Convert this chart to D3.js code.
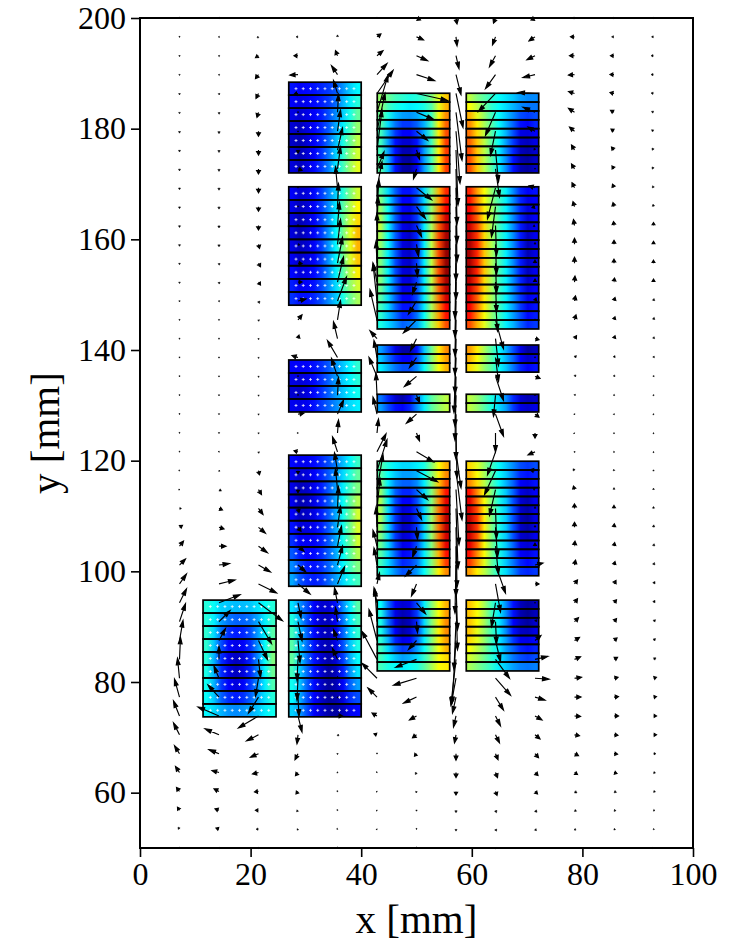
<!DOCTYPE html>
<html><head><meta charset="utf-8">
<style>html,body{margin:0;padding:0;background:#fff}svg{display:block}</style>
<script src="https://d3js.org/d3.v7.min.js"></script></head>
<body><div id="chart"></div>
<script>
const xTicks=[0,20,40,60,80,100], yTicks=[60,80,100,120,140,160,180,200];

// Velocity field: one list per grid column, 45 rows from y=200 down to y=50
const arrowEastward=[
[0,0,0,0,0,0,0,0,0,0,0,0,0,0,0,0,0,0,0,0,0,0,0,0,.3,.5,2,3,4,6,7,7,6,3.5,1,-2,-5,-6,-6,-5,-4,-3,-2,-1.5,-.5],
[.2,.5,.3,.3,.3,.2,0,0,0,0,0,0,0,.3,.3,.3,0,0,0,0,0,0,0,.3,1,2.5,3.5,5,7,10.5,16,21,11,6.5,0,-5,-11,-21,-14,-10,-7,-5,-4,-3,-1],
[-.5,-1.5,-3,-3,-2.5,-1.5,0,0,0,0,0,0,1,2,2,1,.5,.3,.3,.3,.3,.3,.3,.5,1,3,4.5,7,9,12,18,24,13,9,2,-3,-10,-20,-12,-8,-6,-4,-3,-2.5,-1],
[-.5,-2,-4,-8,-4,0,0,0,4,0,0,0,2,4,4,8,4,1,-6,0,0,6,.5,-4,0,0,1,3,6,8,12,3,4,2,-1,-1,1,4,-1,-3,-2.5,-2,-1.5,-1,-.3],
[0,0,-2,-6,-4,1,3,5,3,-2,1,2,3,5,6,9,3,-4,-10,-6,1,6,1,-5,-3,-2,1,3,4,5,7,-3,-2,-4,-5,0,0,5,1.5,0,.5,.3,.3,.3,0],
[1,4,6,10,16,11,8,5,7,5,2,1,0,-1,-4,-4,-7,-7,-3,-8,-1,-4,1.5,9,10,6,3,-1,-4,-3,2.5,-3,-2,-8,-15,-15,-9,-5,-3,0,.2,.3,.3,.3,.2],
[4,7,11,18,31,17,11,3,-3,15,9,5,2,1,-4,-8,-13,-6,-7,-12,3,-10,3,17,21,11,5,1,-4,-11,-5,9,1,-8,-21,-23,-13,-7,-4,-2,-1.2,-.5,0,0,0],
[1,1,3,5,7,6,4,2,1,1,1,0,0,-1,-1,-1,-1,-1,-2,-1,-1,0,1,5,6,3,2,1,0,-1,1.5,1.5,-2,-4,-5,-5,-3.5,-2.5,-1.5,0,0,0,0,0,0],
[-2,-3,-6,-10,-17,-10,-5,3,4,-8,-4,1,1,1,1,2,8,3,3,8,-2,8,0,-8,-11,-6,1,2,3,10,5,-4,1,5,14,15,8,5,4,2.5,2,1.5,1,1,.5],
[-4,-6,-8,-12,-17,-12,-7,-1,0,-6,-3,-2,0,0,0,1,0,4,0,5,0,4,0,-7,-5,-2,0,0,0,8,4,0,2,6,13,14,10,7,5,3.5,3,2.5,2,1.5,.5],
[-2,-4,-5,-6,-6,-6,-5,-3,-3,-2.5,-1.5,-1,0,0,.5,1,1.5,2,2,1.5,1,.5,.2,-.5,-1.5,-1,0,0,.5,1,3,3,4,5,6,7,6.5,6,5,4,3,2.5,2,1.5,.5],
[-1.5,-2.5,-3.5,-4,-4,-3.5,-3,-2.5,-2,-1.5,-1,-.5,0,0,.5,1,1,1,1,.7,.3,.2,0,-.3,-.3,0,0,.3,.7,1,2,2.5,2.5,3,3.5,4,4.5,4.5,4,3.5,3,2.5,2,1.5,.5],
[-1,-2,-2.5,-2.5,-2.5,-2,-2,-1.5,-1.5,-1,-.5,0,0,0,0,.5,.7,.7,.7,.5,.3,.2,0,0,0,0,0,.3,.7,1,1.5,1.5,2,2,2.5,3,3,3,3,2.5,2,2,1.5,1,.5]
];
const arrowDownward=[
[.5,.7,1,1,1.5,1.5,2,2,2,2,2,2,2,1.5,1.5,1,.8,.7,.6,.6,.6,.6,.6,.5,.3,0,0,-2,-5,-6,-10,-14,-18,-20,-22,-20,-18,-15,-12,-8,-6,-4,-3,-2,-1],
[.5,.7,1,1,1.5,2,2.5,2.5,2.5,2.5,2.5,2.5,2.5,2,2,1,.8,.7,.7,.7,.7,.7,.7,.5,.5,1.5,1.5,1.5,0,-1.5,-4,-8,-11,-12,-13,-12,-12,-9,-6,-4,-2,-2.5,-1.5,-1,0],
[.5,1,2,4,5,5,5,5,5,5,4.5,4.5,4,3.5,3,2.5,1.5,1,1,1,1,1,1,1.5,4,5,6,6,6.5,7,9,18,22,19,18,18,16,12,6,3.5,1.5,.5,0,0,0],
[0,0,0,.5,1,-1,1,3,1.5,.5,.5,.5,.5,.5,0,-2,-5,-3.5,-2,.5,.5,-1,0,-1,3,3,4,4,5,7,10,15,19,22,21,22,19,16,9,6,3,2.5,1.5,1,.3],
[-1,-2,-5,-9,-13,-18,-21,-22,-22,-21,-23,-23,-25,-26,-25,-24,-19,-17,-17,-18,-18,-14,-13,-15,-18,-21,-22,-21,-20,-19,-17,-15,-14,-11,-11,-2,-.5,0,1,1,.5,.5,.5,.3,.2],
[-.5,-3,-5,-11,-23,-37,-38,-40,-17,-26,-27,-29,-31,-22,-19,-37,-30,-8,-17,-19,-22,-17,-14,-18,-31,-35,-30,-20,-16,-17,-11,-15,-32,-31,-28,-15,-9,-3,-1,.5,.3,-.3,-.3,-.3,0],
[2,3,5,6,7,7,9,9,10,12,12,11,12,13,12,13,13,12,10,10,7,9,8,10,11,10,11,12,11,11,12,11,11,9,8,7,6,4,3,2.5,2,1.5,1,.5,.2],
[6,9,13,20,34,48,52,55,55,55,55,55,55,55,55,55,55,55,55,50,45,45,45,36,49,55,60,60,50,48,46,47,48,63,45,27,16,11,8,6.5,5,3.5,2.5,2,1],
[5,8,11,14,18,23,24,32,28,31,30,30,30,30,30,30,29,27,24,24,21,22,19,23,24,26,30,30,28,28,28,24,22,21,19,17,13,10,8,6,5,4,2.5,2,1],
[2,4,4,3,-1,-5,-4,-2,-1,-2,1,1,-2,-3,-3,-3,-1,1,-1,2,-1,3,5,3,-1,-1,-2,-2,-3,-2,0,0,-2,-5,-3,1,3,4,4,4,3,2.5,2,1.5,.5],
[0,0,0,.5,-2,-4,-4,-5,-5,-5,-5,-6,-6,-6,-6,-5,-5,-3,-2,-1.5,-1,-.5,-.2,-.5,-2,-3.5,-4.5,-5,-5,-5,-4,-4,-4,-3,-2.5,-1,0,.5,1,2,2,1.5,1,1,.5],
[0,0,0,0,-1,-2,-2,-3,-3,-3.5,-4,-4,-4,-4,-4,-3.5,-3,-3,-2,-1.5,-1,-.7,-.6,-.7,-1.5,-2,-3,-3.5,-3.5,-3.5,-3.5,-3,-3,-2.5,-2,-1,-.5,0,.5,.5,1,1,.5,.5,0],
[0,0,0,0,-.5,-1,-1.5,-2,-2,-2,-2.5,-3,-3,-3,-3,-2.5,-2.5,-2,-1.5,-1,-.8,-.6,-.5,-.5,-1,-1.5,-2,-2.5,-2.5,-2.5,-2.5,-2.5,-2,-2,-1.5,-1,-.5,0,0,0,.3,.3,.3,.3,0]
];

// Heat values (percent of colour range), one row per strip, 10 cells across
const heatF=[[41,38,33,32,31,31,32,35,38,41],[41,36,28,24,22,22,24,29,36,43],[42,34,24,17,15,16,20,28,37,46],[42,32,20,13,10,12,17,27,38,49],[41,30,17,10,6,9,16,26,38,50],[40,30,17,10,6,9,16,26,37,48],[39,30,18,12,9,12,18,27,36,45],[38,32,22,17,15,17,22,29,35,41],[37,34,30,27,26,27,29,32,36,39]];
const heatE=[[35,27,20,12,8,8,14,26,36,46],[40,30,20,12,7,6,12,24,36,44],[44,32,22,13,7,5,11,22,34,42],[46,33,23,14,7,5,10,20,32,40],[47,34,23,14,8,4,8,18,30,38],[44,33,23,14,8,3,6,15,27,35],[39,32,22,13,7,3,5,12,22,28],[37,30,20,12,7,3,4,9,17,20],[33,28,20,12,8,4,3,6,11,13]];
const heatD=[[13,11,11,13,16,20,25,31,37,43],[11,8,9,12,16,21,27,34,41,47],[10,6,7,11,15,21,28,36,44,50],[11,5,6,10,15,21,29,38,47,55],[12,6,7,10,15,21,29,39,48,58],[14,9,9,11,15,21,29,39,49,59],[17,12,11,12,15,21,29,39,48,58],[21,15,12,13,16,22,29,38,47,55],[26,19,15,14,17,22,29,37,44,50],[29,21,17,15,17,22,28,34,40,44]];
const heatC=[[12,12,12,14,17,21,27,32,37,42],[10,9,10,13,17,22,28,33,37,41],[8,7,9,13,17,22,28,32,36,39],[11,10,11,14,18,22,26,30,34,36]];
const heatB=[[12,8,9,13,18,25,33,41,50,58],[10,6,8,12,18,26,35,46,55,63],[9,5,8,12,18,27,37,47,58,66],[9,5,8,12,18,27,37,49,60,69],[10,6,8,12,18,27,37,49,60,70],[11,7,9,12,18,27,37,48,59,68],[13,9,10,13,18,26,36,46,56,64],[15,11,12,14,19,26,34,43,52,58],[17,14,14,16,20,26,32,40,48,54]];
const heatA=[[14,12,13,14,16,18,21,27,33,37],[12,10,11,13,15,18,23,30,36,41],[10,8,10,12,15,20,26,33,40,47],[8,6,9,12,16,21,29,36,44,52],[7,5,8,12,16,23,31,40,48,56],[8,5,8,12,17,24,33,42,51,58],[9,6,9,13,18,25,35,44,53,60]];
const heatG=[[52,48,44,42,40,41,44,50,60,68],[52,44,40,38,36,37,40,46,60,70],[48,40,32,28,27,29,34,44,62,74],[46,34,24,18,18,22,30,44,64,78],[44,30,18,12,12,18,30,44,64,80],[44,28,14,8,8,14,28,44,64,82],[44,28,14,5,5,12,28,44,64,82],[46,30,14,4,3,12,28,44,64,82],[46,32,14,4,3,12,28,44,64,82]];
const heatH=[[46,34,22,14,14,20,34,50,70,84],[50,36,22,12,12,20,34,52,72,86],[52,38,22,12,10,18,34,52,74,88],[54,38,22,10,10,18,34,54,76,92],[56,38,22,10,8,16,36,54,78,94],[54,38,22,10,7,16,36,56,80,96],[52,38,22,9,7,16,36,56,80,98],[50,36,22,9,7,16,36,56,80,98],[50,36,20,9,7,18,36,56,80,98],[50,36,20,9,8,18,36,56,80,98],[50,36,22,10,9,18,36,56,80,96],[48,34,22,10,10,20,36,54,78,94],[46,34,22,12,12,20,36,54,76,92],[44,34,22,14,14,22,36,54,74,88],[42,32,24,16,16,24,38,54,72,86],[40,34,28,22,24,28,40,54,68,80]];
const heatI=[[28,20,10,4,4,14,32,48,64,74],[32,24,16,12,12,20,34,50,64,72],[36,30,24,20,20,26,38,50,62,70]];
const heatJ=[[24,16,8,4,10,24,36,46,52,56],[28,20,14,12,16,26,36,46,52,56]];
const heatK=[[46,40,36,34,34,36,40,50,62,70],[46,38,32,28,28,30,38,50,64,74],[50,36,26,22,22,26,36,50,68,80],[52,36,22,16,16,22,34,50,72,86],[54,36,20,12,12,20,34,50,74,90],[54,34,18,8,10,18,34,52,76,92],[54,34,18,6,8,18,34,52,76,94],[52,34,18,6,8,18,34,52,76,94],[50,34,18,8,10,18,34,52,76,92],[48,34,20,10,12,20,34,50,74,90],[46,34,22,12,14,22,36,50,70,86],[44,34,24,16,18,24,36,50,68,82],[42,34,26,20,22,28,38,50,64,74]];
const heatL=[[38,24,12,8,10,20,36,50,62,70],[40,24,10,5,8,18,34,50,62,72],[40,24,10,3,6,16,34,50,64,74],[40,26,12,4,8,18,34,50,64,74],[42,30,16,10,12,22,36,50,64,72],[44,34,24,18,20,28,38,50,62,70],[44,38,32,28,30,34,42,52,62,66],[44,40,38,36,38,40,46,54,62,64]];
const heatM=[[56,50,46,42,38,35,32,28,26,26],[62,56,48,42,38,34,30,26,24,24],[70,60,52,44,38,32,26,20,18,20],[74,64,54,46,38,30,22,14,12,16],[76,66,56,46,38,30,20,10,9,12],[78,68,56,46,38,28,18,8,6,10],[80,68,56,46,36,26,16,6,4,8],[80,68,56,46,36,26,14,5,3,7],[80,68,56,46,36,26,14,5,3,7]];
const heatN=[[84,72,62,52,44,36,26,16,12,14],[86,74,62,52,44,36,26,16,10,12],[88,76,64,54,44,36,26,16,9,12],[90,78,64,54,44,36,26,16,8,12],[92,80,66,54,44,36,26,15,7,11],[94,82,66,54,44,36,26,15,6,11],[96,84,68,55,45,36,26,15,5,10],[96,84,68,55,45,36,26,15,5,10],[96,84,68,55,45,36,26,15,6,10],[96,84,68,55,45,36,26,15,6,11],[94,82,66,54,44,36,26,16,7,12],[92,80,66,54,44,36,26,16,8,12],[90,78,64,54,44,36,27,18,10,13],[88,76,64,52,44,36,28,18,11,14],[86,74,62,52,44,36,28,20,13,15],[80,70,60,50,44,36,30,22,16,18]];
const heatO=[[72,64,54,46,38,30,20,10,3,6],[70,62,54,46,38,30,22,12,7,10],[66,60,52,46,38,32,24,16,12,14]];
const heatP=[[56,52,46,40,34,26,16,8,5,7],[56,52,46,40,34,28,18,10,8,10]];
const heatQ=[[66,60,52,44,38,32,26,20,18,20],[70,62,54,46,38,32,24,16,14,16],[74,66,56,46,38,30,22,12,10,14],[86,74,62,50,40,32,22,10,7,12],[90,76,62,50,40,32,20,8,5,11],[92,80,64,50,40,32,20,7,4,10],[94,82,64,50,40,32,20,6,3,10],[94,82,64,50,40,32,20,7,4,10],[92,80,62,50,40,32,20,8,6,11],[90,78,62,50,40,32,22,10,8,12],[86,74,62,50,40,32,22,12,10,14],[82,72,60,48,40,32,24,16,13,16],[72,64,56,48,40,34,26,18,16,18]];
const heatR=[[68,62,54,44,36,26,14,6,3,6],[68,62,54,44,36,26,14,5,2,6],[68,62,54,44,36,26,12,6,3,8],[68,60,52,44,36,26,14,7,6,10],[66,60,52,44,36,28,18,11,10,13],[62,56,50,42,36,28,22,16,14,16],[58,54,48,42,36,30,24,20,18,20],[54,50,46,42,36,32,28,25,24,25]];

// Blocks in data millimetres: [x0, x1, yBottom, yTop, heat, has measurement marks]
const blocks=[
[11.4,24.6,73.7,94.8,heatF,true],[26.9,40,73.7,94.8,heatE,true],[26.9,40,97.3,121,heatD,true],
[26.9,40,128.8,138.2,heatC,true],[26.9,40,148.1,169.5,heatB,true],[26.9,40,172,188.4,heatA,true],
[42.9,56,172,186.4,heatG,false],[42.9,56,143.8,169.5,heatH,false],[42.9,56,136,140.9,heatI,false],
[42.9,56,128.8,132,heatJ,false],[42.9,56,99.2,119.9,heatK,false],[42.9,56,82,94.8,heatL,false],
[59,72.1,172,186.4,heatM,false],[59,72.1,143.8,169.5,heatN,false],[59,72.1,136,140.9,heatO,false],
[59,72.1,128.8,132,heatP,false],[59,72.1,99.2,119.9,heatQ,false],[59,72.1,82,94.8,heatR,false]
];

const W=743,H=941,L=140,R=693,T=18,B=848;
const x=d3.scaleLinear().domain([0,100]).range([L,R]);
const y=d3.scaleLinear().domain([50,200]).range([B,T]);
const unitPx=1; // one velocity unit drawn as one pixel
const jet=v=>{
  const c=t=>Math.round(255*Math.max(0,Math.min(1,1.5-Math.abs(4*v-t))));
  return `rgb(${c(3)},${c(2)},${c(1)})`;
};
const svg=d3.select('#chart').append('svg').attr('width',W).attr('height',H);
const font='"Liberation Serif","Times New Roman",serif';
const defs=svg.append('defs');
let gradId=0;

const gHeat=svg.append('g');
const gMarks=svg.append('g');
const gStrips=svg.append('g');
blocks.forEach(([x0,x1,y0,y1,heat,marks])=>{
  const n=heat.length;
  const sx=d3.scaleLinear().domain([0,10]).range([x(x0),x(x1)]);
  const sy=d3.scaleLinear().domain([0,n]).range([y(y1),y(y0)]);
  heat.forEach((row,r)=>{
    const id='h'+(gradId++);
    const grad=defs.append('linearGradient').attr('id',id);
    grad.selectAll('stop').data(row).enter().append('stop')
      .attr('offset',(d,i)=>((i+.5)/10))
      .attr('stop-color',d=>jet(d/100));
    gHeat.append('rect').attr('x',sx(0)).attr('y',sy(r))
      .attr('width',sx(10)-sx(0)).attr('height',sy(1)-sy(0))
      .attr('fill',`url(#${id})`);
    if(marks){
      d3.range(1,10).forEach(i=>{
        const cx=sx(i), cy=sy(r+.5), s=1.5;
        gMarks.append('path').attr('d',`M${cx-s},${cy}H${cx+s}M${cx},${cy-s}V${cy+s}`)
          .attr('stroke','#fff').attr('stroke-width',.8).attr('fill','none').attr('opacity',.9);
      });
    }
    gStrips.append('rect').attr('x',sx(0)).attr('y',sy(r))
      .attr('width',sx(10)-sx(0)).attr('height',sy(1)-sy(0))
      .attr('fill','none').attr('stroke','#000').attr('stroke-width',1.7);
  });
});

// Quiver
const gArrows=svg.append('g');
const cols=d3.range(1,14).map(i=>i*100/14);
const rows=d3.range(0,45).map(k=>200-k*150/44);
cols.forEach((cx,c)=>{
  gArrows.selectAll(null).data(rows).enter().append('path')
    .attr('d',(ry,r)=>{
      const px=x(cx), py=y(ry), dx=arrowEastward[c][r]*unitPx, dy=arrowDownward[c][r]*unitPx;
      const len=Math.hypot(dx,dy);
      if(len<.01) return `M${px-.4},${py-.4}h.8v.8h-.8z`;
      const ux=dx/len, uy=dy/len;
      const hl=Math.min(6.5,Math.max(1.2,.55*len+.6));
      const hw=Math.min(1.9,Math.max(.5,.32*len+.4));
      const tx=px+dx, ty=py+dy, bx=tx-ux*hl, by=ty-uy*hl;
      return `M${px},${py}L${bx},${by}M${tx},${ty}L${bx-uy*hw},${by+ux*hw}L${bx+uy*hw},${by-ux*hw}Z`;
    })
    .attr('fill','#000').attr('stroke','#000').attr('stroke-width',(ry,r)=>{
      const l=Math.hypot(arrowEastward[c][r],arrowDownward[c][r]);
      return l<3?.5:1.15;
    }).attr('stroke-linejoin','miter');
});

// Axes
const gx=svg.append('g').attr('transform',`translate(0,${B})`)
  .call(d3.axisBottom(x).tickValues(xTicks).tickSize(9).tickPadding(5).tickFormat(d3.format('d')));
const gy=svg.append('g').attr('transform',`translate(${L},0)`)
  .call(d3.axisLeft(y).tickValues(yTicks).tickSize(9).tickPadding(5).tickFormat(d3.format('d')));
[gx,gy].forEach(g=>{
  g.select('.domain').remove();
  g.selectAll('line').attr('stroke','#000').attr('stroke-width',1.6);
  g.selectAll('text').attr('fill','#000').style('font-family',font).style('font-size','32px');
});
svg.append('rect').attr('x',L).attr('y',T).attr('width',R-L).attr('height',B-T)
  .attr('fill','none').attr('stroke','#000').attr('stroke-width',2);
svg.append('text').attr('x',x(50)).attr('y',933).attr('text-anchor','middle')
  .style('font-family',font).style('font-size','41px').text('x [mm]');
svg.append('text').attr('transform',`translate(59,${y(125)}) rotate(-90)`).attr('text-anchor','middle')
  .style('font-family',font).style('font-size','41px').text('y [mm]');
</script></body></html>
